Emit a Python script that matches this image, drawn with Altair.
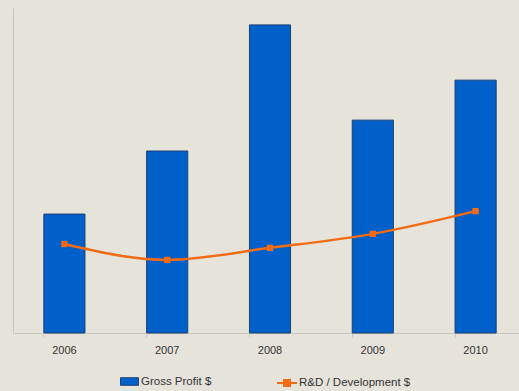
import altair as alt
import pandas as pd

years = ["2006", "2007", "2008", "2009", "2010"]
gross_profit = [36.6, 56.0, 94.8, 65.5, 77.8]
rnd = [27.4, 22.5, 26.2, 30.5, 37.5]

bar_name = "Gross Profit $"
line_name = "R&D / Development $"

df = pd.DataFrame({
    "year": years,
    "gross": gross_profit,
    "rnd": rnd,
    "bar_series": [bar_name] * len(years),
    "line_series": [line_name] * len(years),
})

BLUE = "#0060c9"
ORANGE = "#f36b12"
FONT = "Liberation Sans"

x = alt.X("year:N", title=None, sort=years,
          scale=alt.Scale(range=[0, 514], paddingInner=0.6, paddingOuter=0.3),
          axis=alt.Axis(labelAngle=0, bandPosition=0, tickSize=4, labelPadding=7,
                        labelFontSize=11, labelColor="#333333", labelFont=FONT,
                        domainColor="#c9c8c0", tickColor="#c9c8c0", grid=False))
yscale = alt.Scale(domain=[0, 100])

bars = alt.Chart(df).mark_bar(stroke="#1d3f73", strokeWidth=1).encode(
    x=x,
    y=alt.Y("gross:Q", title=None, scale=yscale,
            axis=alt.Axis(labels=False, ticks=False, grid=False, domainColor="#c9c8c0", title=None)),
    fill=alt.Fill("bar_series:N", scale=alt.Scale(domain=[bar_name], range=[BLUE]),
                  legend=alt.Legend(title=None, orient="none", legendX=107, legendY=364,
                                    symbolType="M-1,-0.42H1V0.42H-1Z", symbolSize=324,
                                    symbolStrokeColor="#1d3f73", symbolStrokeWidth=1,
                                    labelFont=FONT, labelFontSize=11.5, labelColor="#333333",
                                    labelOffset=2, padding=0)),
)

line = alt.Chart(df).mark_line(interpolate="monotone", strokeWidth=2.5).encode(
    x=alt.X("year:N", sort=years),
    y=alt.Y("rnd:Q", scale=yscale),
    stroke=alt.Stroke("line_series:N", scale=alt.Scale(domain=[line_name], range=[ORANGE]),
                      legend=alt.Legend(title=None, orient="none", legendX=263, legendY=364,
                                        symbolType="M-1,0H1M-0.3,-0.3H0.3V0.3H-0.3Z", symbolSize=400,
                                        symbolStrokeWidth=2, symbolFillColor=ORANGE,
                                        labelFont=FONT, labelFontSize=11.5, labelColor="#333333",
                                        labelOffset=1, padding=0)),
)

points = alt.Chart(df).mark_square(size=40, color=ORANGE, opacity=1).encode(
    x=alt.X("year:N", sort=years),
    y=alt.Y("rnd:Q", scale=yscale),
)

chart = alt.layer(bars, line, points).properties(
    width=506, height=325,
    background="#e6e3db",
    padding={"left": 13, "top": 8, "right": 0, "bottom": 58},
    autosize=alt.AutoSizeParams(type="none"),
).configure_view(stroke=None)

chart.save("out.html", embed_options={"renderer": "svg", "actions": False})
